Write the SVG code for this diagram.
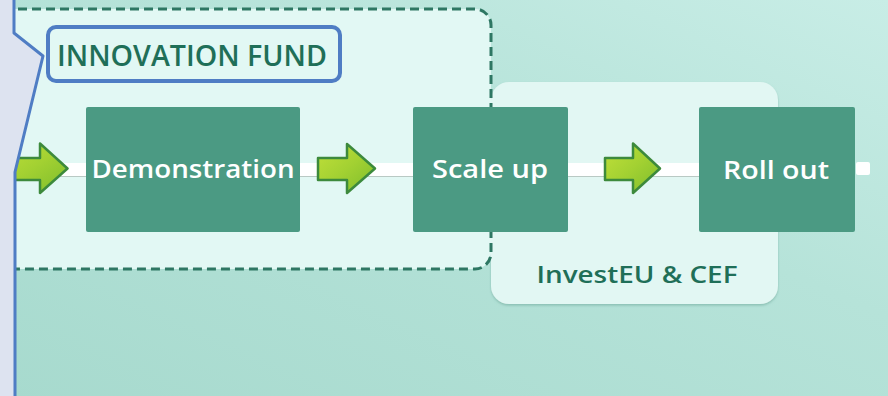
<svg xmlns="http://www.w3.org/2000/svg" width="888" height="396" viewBox="0 0 888 396">
<defs>
<linearGradient id="bg" x1="0" y1="1" x2="1" y2="0">
<stop offset="0" stop-color="#a7dace"/>
<stop offset="0.6" stop-color="#b6e3d9"/>
<stop offset="1" stop-color="#c8ede6"/>
</linearGradient>
<linearGradient id="ag" x1="0" y1="0" x2="1" y2="1">
<stop offset="0" stop-color="#c2e03a"/>
<stop offset="0.5" stop-color="#a3d132"/>
<stop offset="1" stop-color="#7dbd2c"/>
</linearGradient>
<filter id="sh" x="-5%" y="-5%" width="110%" height="115%">
<feDropShadow dx="0" dy="1.5" stdDeviation="1.2" flood-color="#5f9c8e" flood-opacity="0.5"/>
</filter>
<style>
.box{fill:#4b9a83;}
.lbl{font-family:"Open Sans","Liberation Sans",Arial,sans-serif;font-weight:600;fill:#ffffff;font-size:26px;text-anchor:middle;}
.dk{font-family:"Open Sans","Liberation Sans",Arial,sans-serif;font-weight:600;fill:#1f6f58;}
.arrow{fill:url(#ag);stroke:#3d8a3c;stroke-width:2.5;stroke-linejoin:round;}
</style>
</defs>
<rect x="0" y="0" width="888" height="396" fill="url(#bg)"/>
<g id="investeu">
<rect x="491" y="82" width="287" height="222" rx="18" fill="#e2f7f3" filter="url(#sh)"/>
<text class="dk" x="637" y="283" font-size="23" text-anchor="middle" textLength="201" lengthAdjust="spacingAndGlyphs">InvestEU &amp; CEF</text>
</g>
<g id="innovation-area">
<path d="M-10,9 H475 A16,16 0 0 1 491,25 V253 A16,16 0 0 1 475,269 H-10 Z" fill="#e2f8f4" stroke="#2e7763" stroke-width="3" stroke-dasharray="9 5"/>
</g>
<g id="connectors">
<rect x="10" y="163" width="845" height="13" fill="#ffffff"/>
<line x1="10" y1="176.5" x2="855" y2="176.5" stroke="#b9c9c4" stroke-width="1"/>
<rect x="856" y="162" width="14" height="13" rx="2" fill="#ffffff"/>
<path class="arrow" d="M-5,158 H40 V143.5 L67.5,168.5 L40,193 V180 H-5 Z"/>
<path class="arrow" d="M318,158 H347 V144 L375,168.5 L347,193 V180 H318 Z"/>
<path class="arrow" d="M605,158 H633 V143.5 L660,168.5 L633,193 V180 H605 Z"/>
</g>
<g id="demonstration">
<rect class="box" x="86" y="107" width="214" height="125" rx="2"/>
<text class="lbl" x="193" y="178" textLength="203" lengthAdjust="spacingAndGlyphs">Demonstration</text>
</g>
<g id="scale-up">
<rect class="box" x="413" y="107" width="155" height="125" rx="2"/>
<text class="lbl" x="490" y="178" textLength="116" lengthAdjust="spacingAndGlyphs">Scale up</text>
</g>
<g id="roll-out">
<rect class="box" x="699" y="107" width="156" height="125" rx="2"/>
<text class="lbl" x="776" y="179" textLength="106" lengthAdjust="spacingAndGlyphs">Roll out</text>
</g>
<g id="callout">
<path d="M0,0 H14 V33 L43,56 L15,172 V396 H0 Z" fill="#dde3f0"/>
<polyline points="14,0 14,33 43,56 15,172 15,396" fill="none" stroke="#4f7dc4" stroke-width="3" stroke-linejoin="round"/>
<rect x="48" y="27" width="292" height="54" rx="8" fill="#e2f8f4" stroke="#4f7dc4" stroke-width="4"/>
<text class="dk" x="192" y="66" font-size="29" text-anchor="middle" textLength="270" lengthAdjust="spacingAndGlyphs">INNOVATION FUND</text>
</g>
</svg>
